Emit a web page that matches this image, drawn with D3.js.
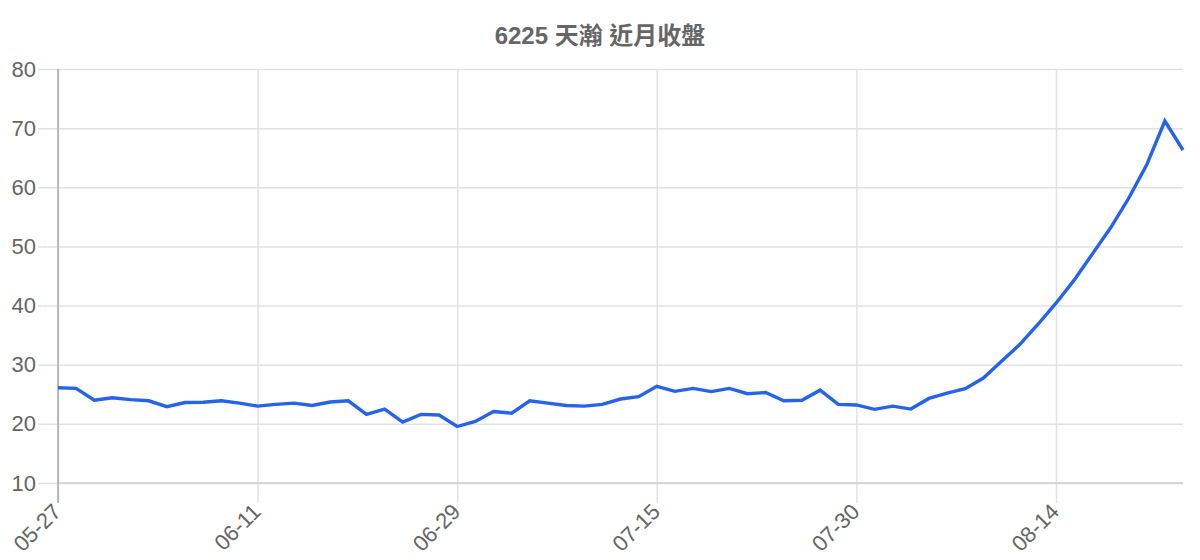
<!DOCTYPE html>
<html>
<head>
<meta charset="utf-8">
<script src="https://cdn.jsdelivr.net/npm/d3@7"></script>
<style>
  body { margin: 0; background: #fff; }
  svg text { font-family: "Liberation Sans", Arial, "Noto Sans CJK TC", sans-serif; }
</style>
</head>
<body>
<div id="chart"></div>
<script>
// chart data
const title = "6225 天瀚 近月收盤";

const dates = [
    "05-27", "05-28", "05-29", "05-30", "06-02", "06-03", "06-04", "06-05", "06-06", "06-09", "06-10",
    "06-11", "06-12", "06-13", "06-16", "06-17", "06-18", "06-19", "06-23", "06-24", "06-25", "06-26",
    "06-29", "06-30", "07-01", "07-02", "07-03", "07-04", "07-07", "07-08", "07-09", "07-10", "07-11",
    "07-15", "07-16", "07-17", "07-18", "07-21", "07-22", "07-23", "07-24", "07-25", "07-28", "07-29",
    "07-30", "07-31", "08-01", "08-04", "08-05", "08-06", "08-07", "08-08", "08-11", "08-12", "08-13",
    "08-14", "08-15", "08-18", "08-19", "08-20", "08-21", "08-22", "08-25"
];

const closes = [
    26.1, 26.0, 24.0, 24.4, 24.1, 23.9, 22.9, 23.6, 23.65, 23.9, 23.5,
    23.0, 23.3, 23.5, 23.1, 23.7, 23.9, 21.6, 22.5, 20.3, 21.6, 21.5,
    19.55, 20.4, 22.1, 21.8, 23.9, 23.5, 23.1, 23.0, 23.3, 24.2, 24.6,
    26.35, 25.5, 26.0, 25.45, 26.0, 25.1, 25.3, 23.9, 24.0, 25.7, 23.3,
    23.2, 22.45, 23.0, 22.5, 24.3, 25.2, 25.95, 27.75, 30.6, 33.4, 36.8,
    40.4, 44.3, 48.7, 53.1, 58.1, 63.8, 71.2, 66.3
];

const xTickLabels = ["05-27", "06-11", "06-29", "07-15", "07-30", "08-14"];
const yTicks = [10, 20, 30, 40, 50, 60, 70, 80];

const W = 1200, H = 560;
const margin = {top: 69, right: 17, bottom: 77, left: 58};
const width = W - margin.left - margin.right;
const height = H - margin.top - margin.bottom;

const svg = d3.select("#chart")
    .append("svg")
    .attr("width", W)
    .attr("height", H);

svg.append("text")
    .attr("x", W / 2)
    .attr("y", 44)
    .attr("text-anchor", "middle")
    .style("font-size", "24px")
    .style("font-weight", "bold")
    .style("fill", "#666")
    .text(title);

const g = svg.append("g")
    .attr("transform", `translate(${margin.left},${margin.top})`);

const x = d3.scalePoint()
    .domain(dates)
    .range([0, width]);

const y = d3.scaleLinear()
    .domain([10, 80])
    .range([height, 0]);

// y axis with full width grid
const yAxis = g.append("g")
    .call(d3.axisLeft(y)
        .tickValues(yTicks)
        .tickSize(-width)
        .tickPadding(22));
yAxis.select(".domain").remove();
yAxis.selectAll(".tick line")
    .attr("x1", -20)
    .attr("stroke", "#e2e2e2")
    .attr("stroke-width", 1.5);
yAxis.selectAll(".tick text")
    .style("font-size", "22px")
    .style("fill", "#666");

// x axis with vertical grid
const xAxis = g.append("g")
    .attr("transform", `translate(0,${height})`)
    .call(d3.axisBottom(x)
        .tickValues(xTickLabels)
        .tickSize(-height)
        .tickPadding(0));
xAxis.select(".domain").remove();
xAxis.selectAll(".tick line")
    .attr("y1", 20)
    .attr("stroke", "#e2e2e2")
    .attr("stroke-width", 1.5);
xAxis.selectAll(".tick text")
    .attr("text-anchor", "end")
    .attr("dy", null)
    .attr("transform", "translate(4,30) rotate(-45)")
    .style("font-size", "22px")
    .style("fill", "#666");

// axis border lines
g.append("line")
    .attr("x1", 0).attr("x2", width)
    .attr("y1", y(10)).attr("y2", y(10))
    .attr("stroke", "#cfcfcf")
    .attr("stroke-width", 1.5);
g.append("line")
    .attr("x1", 0).attr("x2", 0)
    .attr("y1", 0).attr("y2", height + 20)
    .attr("stroke", "#a8a8a8")
    .attr("stroke-width", 1.5);

const line = d3.line()
    .x((d, i) => x(dates[i]))
    .y(d => y(d));

g.append("path")
    .datum(closes)
    .attr("fill", "none")
    .attr("stroke", "#2563eb")
    .attr("stroke-width", 3.4)
    .attr("stroke-linejoin", "miter")
    .attr("d", line);
</script>
</body>
</html>
